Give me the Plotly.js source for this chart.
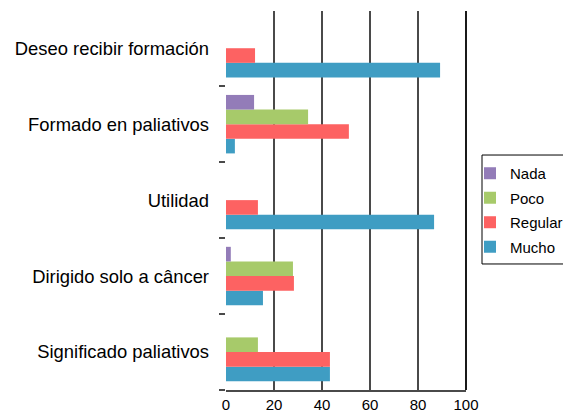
<!DOCTYPE html>
<html>
<head>
<meta charset="utf-8">
<script src="https://cdn.plot.ly/plotly-3.0.1.min.js"></script>
<style>html,body{margin:0;padding:0;background:#fff;}</style>
</head>
<body>
<div id="chart" style="width:563px;height:414px;"></div>
<script>
// Categories, bottom to top
const categories = ["Significado paliativos", "Dirigido solo a câncer", "Utilidad", "Formado en paliativos", "Deseo recibir formación"];
const nada    = [0,    2,    0,    11.7, 0];
const poco    = [13.3, 27.9, 0,    34.2, 0];
const regular = [43.3, 28.3, 13.3, 51.2, 12.1];
const mucho   = [43.3, 15.4, 86.7, 3.7,  89.2];
const seriesNames = ["Mucho", "Regular", "Poco", "Nada"];
const seriesValues = [mucho, regular, poco, nada];
const seriesColors = ["#3f9dc3", "#fd6262", "#a7ca6a", "#937cb8"];
const legendRanks = [4, 3, 2, 1];
const xTicks = [0, 20, 40, 60, 80, 100];

const traces = seriesNames.map((name, i) => ({
  type: "bar",
  orientation: "h",
  name: name,
  legendgroup: name,
  legendrank: legendRanks[i],
  y: categories,
  x: seriesValues[i],
  marker: {color: seriesColors[i], line: {width: 0}},
  hoverinfo: "x+name"
}));

const layout = {
  width: 563,
  height: 414,
  margin: {l: 226, r: 97, t: 11, b: 24},
  paper_bgcolor: "#fff",
  plot_bgcolor: "#fff",
  barmode: "group",
  bargap: 0.23,
  bargroupgap: 0,
  font: {family: "Liberation Sans, Arial, sans-serif", color: "#000", size: 15},
  xaxis: {
    range: [0, 100],
    tickvals: xTicks,
    ticktext: xTicks.map(String),
    showgrid: true,
    gridcolor: "#4a4a4a",
    gridwidth: 1.6,
    zeroline: false,
    showline: true,
    linecolor: "#4a4a4a",
    linewidth: 1.6,
    ticks: "",
    tickfont: {size: 15},
    automargin: false,
    fixedrange: true
  },
  yaxis: {
    type: "category",
    categoryorder: "array",
    categoryarray: categories,
    range: [-0.5, 4.49],
    tickson: "boundaries",
    ticks: "outside",
    ticklen: 6,
    tickcolor: "#4a4a4a",
    tickwidth: 1.6,
    showgrid: false,
    showline: false,
    zeroline: false,
    tickfont: {size: 18.4},
    ticklabelstandoff: 16,
    automargin: false,
    fixedrange: true
  },
  legend: {
    xref: "container", yref: "container",
    x: 470 / 563, xanchor: "left",
    y: 0.6208, yanchor: "top",
    traceorder: "grouped",
    bgcolor: "rgba(0,0,0,0)",
    borderwidth: 0,
    font: {size: 15},
    itemwidth: 30,
    tracegroupgap: 2
  },
  shapes: [
    {
      type: "rect", xref: "paper", yref: "paper",
      x0: 1.0667, x1: 1.45, y0: 0.3325, y1: 0.62,
      line: {color: "#000", width: 1}, fillcolor: "rgba(0,0,0,0)", layer: "above"
    },
    {
      type: "line", xref: "paper", yref: "paper",
      x0: 1, x1: 1, y0: 0, y1: 1,
      line: {color: "#000", width: 1.8}, layer: "above"
    }
  ],
  showlegend: true
};

Plotly.newPlot("chart", traces, layout, {displayModeBar: false, staticPlot: true});
</script>
</body>
</html>
